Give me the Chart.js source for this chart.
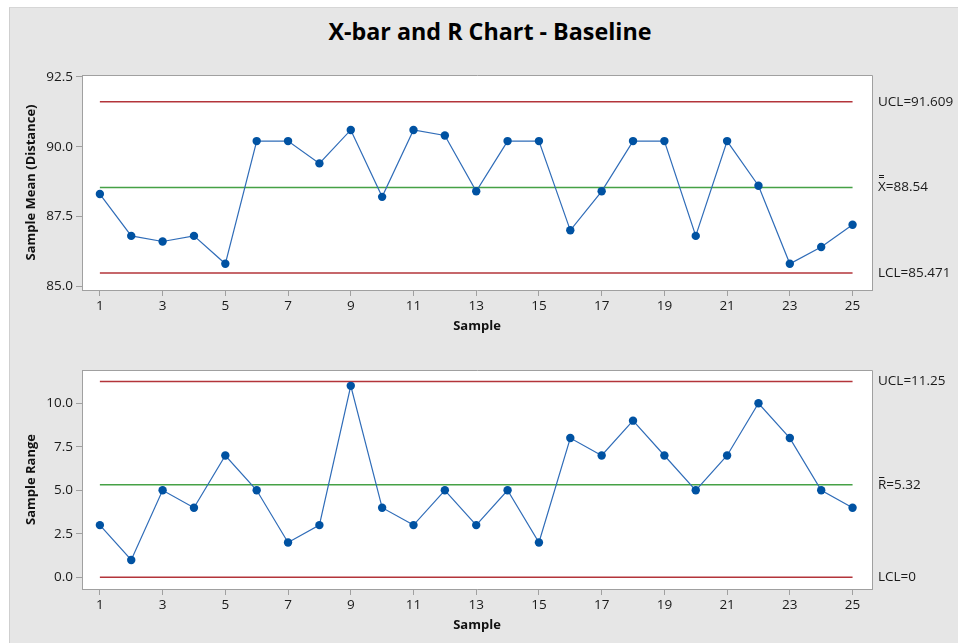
<!DOCTYPE html>
<html><head><meta charset="utf-8">
<script src="https://cdn.jsdelivr.net/npm/chart.js@4.4.1/dist/chart.umd.min.js"></script>
<style>
html,body{margin:0;padding:0;background:#fff;width:958px;height:643px;overflow:hidden;}
#frame{position:absolute;left:9px;top:7px;width:949px;height:636px;background:#e6e6e6;border-left:1px solid #cfcfcf;border-top:1px solid #d6d6d6;box-sizing:border-box;}
#title{position:absolute;left:11px;top:15px;width:958px;text-align:center;font:bold 23.3px 'Open Sans';color:#000;}
canvas{position:absolute;left:0;}
#c1{top:0;}
#c2{top:340px;}
</style>
</head><body>
<div id="frame"></div>
<div id="title">X-bar and R Chart - Baseline</div>
<canvas id="c1" width="958" height="340"></canvas>
<canvas id="c2" width="958" height="303"></canvas>
<script>
const samples = [1,2,3,4,5,6,7,8,9,10,11,12,13,14,15,16,17,18,19,20,21,22,23,24,25];
const sampleMeans = [88.3,86.8,86.6,86.8,85.8,90.2,90.2,89.4,90.6,88.2,90.6,90.4,88.4,90.2,90.2,87.0,88.4,90.2,90.2,86.8,90.2,88.6,85.8,86.4,87.2];
const sampleRanges = [3,1,5,4,7,5,2,3,11,4,3,5,3,5,2,8,7,9,7,5,7,10,8,5,4];
const meanUCL = 91.609, meanCL = 88.54, meanLCL = 85.471;
const rangeUCL = 11.25, rangeCL = 5.32, rangeLCL = 0;
const xTickLabels = [1,3,5,7,9,11,13,15,17,19,21,23,25];
const meanTicks = [85.0,87.5,90.0,92.5];
const rangeTicks = [0.0,2.5,5.0,7.5,10.0];

const FONT = "'Open Sans'";
const AXIS = '#a0a0a0';
const RED = '#b3343a', GREEN = '#46a146', LINE = '#2f6cb8', DOT = '#0052a2';

const framePlugin = {
  id: 'frame',
  beforeDraw(chart) {
    const {ctx, chartArea: a} = chart;
    ctx.save();
    ctx.fillStyle = '#fff';
    ctx.fillRect(a.left, a.top, a.right - a.left, a.bottom - a.top);
    ctx.restore();
  },
  afterDraw(chart, args, opts) {
    const {ctx, chartArea: a} = chart;
    const ys = chart.scales.y;
    ctx.save();
    ctx.strokeStyle = AXIS;
    ctx.lineWidth = 1;
    ctx.beginPath();
    ctx.moveTo(a.left, a.top + 0.5); ctx.lineTo(a.right + 0.5, a.top + 0.5);
    ctx.lineTo(a.right + 0.5, a.bottom);
    ctx.stroke();
    ctx.font = '13.5px ' + FONT;
    ctx.fillStyle = '#1a1a1a';
    ctx.textBaseline = 'middle';
    ctx.textAlign = 'left';
    const x0 = a.right + 6;
    for (const l of opts.labels) {
      const y = ys.getPixelForValue(l.value);
      ctx.fillText(l.text, x0, y);
      const w = ctx.measureText(l.text[0]).width;
      ctx.strokeStyle = '#1a1a1a';
      ctx.lineWidth = 1;
      if (l.bar === 1) {
        ctx.beginPath(); ctx.moveTo(x0 + 1, Math.round(y - 8) + 0.5); ctx.lineTo(x0 + w - 2, Math.round(y - 8) + 0.5); ctx.stroke();
      } else if (l.bar === 2) {
        ctx.beginPath();
        ctx.moveTo(x0 + 1, Math.round(y - 12) + 0.5); ctx.lineTo(x0 + 6, Math.round(y - 12) + 0.5);
        ctx.moveTo(x0 + 1, Math.round(y - 10) + 0.5); ctx.lineTo(x0 + 6, Math.round(y - 10) + 0.5);
        ctx.stroke();
      }
    }
    ctx.restore();
  }
};

function limitLine(v, color) {
  return {
    data: [{x: samples[0], y: v}, {x: samples[samples.length - 1], y: v}],
    borderColor: color, borderWidth: 1.5, pointRadius: 0, fill: false, order: 2
  };
}

function makeChart(id, values, ticks, yMin, yMax, limits, yTitle, padTop, padBottom, labels) {
  const pts = samples.map((s, i) => ({x: s, y: values[i]}));
  return new Chart(document.getElementById(id), {
    type: 'line',
    data: {
      datasets: [
        limitLine(limits[0], RED),
        limitLine(limits[1], GREEN),
        limitLine(limits[2], RED),
        {
          data: pts, borderColor: LINE, borderWidth: 1.2,
          pointRadius: 4.2, pointBackgroundColor: DOT, pointBorderWidth: 0,
          tension: 0, fill: false, order: 1
        }
      ]
    },
    options: {
      responsive: false, animation: false, devicePixelRatio: 1,
      events: [],
      layout: {padding: {left: 0, right: 86, top: padTop, bottom: padBottom}},
      plugins: {legend: {display: false}, tooltip: {enabled: false}, frame: {labels}},
      scales: {
        x: {
          type: 'linear', min: 0.43, max: 25.62,
          afterBuildTicks: s => { s.ticks = xTickLabels.map(v => ({value: v})); },
          afterFit: s => { s.height = 45; },
          grid: {drawOnChartArea: false, drawTicks: true, tickLength: 6, color: AXIS},
          border: {color: AXIS},
          ticks: {font: {family: FONT, size: 13.5}, color: '#1a1a1a', padding: 2, maxRotation: 0, autoSkip: false,
                  callback: v => String(v)},
          title: {display: true, text: 'Sample', font: {family: FONT, size: 13, weight: 'bold'}, color: '#111',
                  padding: {top: 0, bottom: 1}}
        },
        y: {
          min: yMin, max: yMax,
          afterBuildTicks: s => { s.ticks = ticks.map(v => ({value: v})); },
          afterFit: s => { s.width = 82; },
          grid: {drawOnChartArea: false, drawTicks: true, tickLength: 6, color: AXIS},
          border: {color: AXIS},
          ticks: {font: {family: FONT, size: 13.5}, color: '#1a1a1a', padding: 3, callback: v => v.toFixed(1)},
          title: {display: true, text: yTitle, font: {family: FONT, size: 13, weight: 'bold'}, color: '#111',
                  padding: {top: 23, bottom: 0}}
        }
      }
    },
    plugins: [framePlugin]
  });
}

makeChart('c1', sampleMeans, meanTicks, 84.86, 92.57, [meanUCL, meanCL, meanLCL],
  'Sample Mean (Distance)', 75, 5,
  [{text: 'UCL=' + meanUCL, value: meanUCL, bar: 0},
   {text: 'X=' + meanCL, value: meanCL, bar: 2},
   {text: 'LCL=' + meanLCL, value: meanLCL, bar: 0}]);

makeChart('c2', sampleRanges, rangeTicks, -0.67, 11.91, [rangeUCL, rangeCL, rangeLCL],
  'Sample Range', 30, 9,
  [{text: 'UCL=' + rangeUCL, value: rangeUCL, bar: 0},
   {text: 'R=' + rangeCL, value: rangeCL, bar: 1},
   {text: 'LCL=' + rangeLCL, value: rangeLCL, bar: 0}]);
</script>
</body></html>
